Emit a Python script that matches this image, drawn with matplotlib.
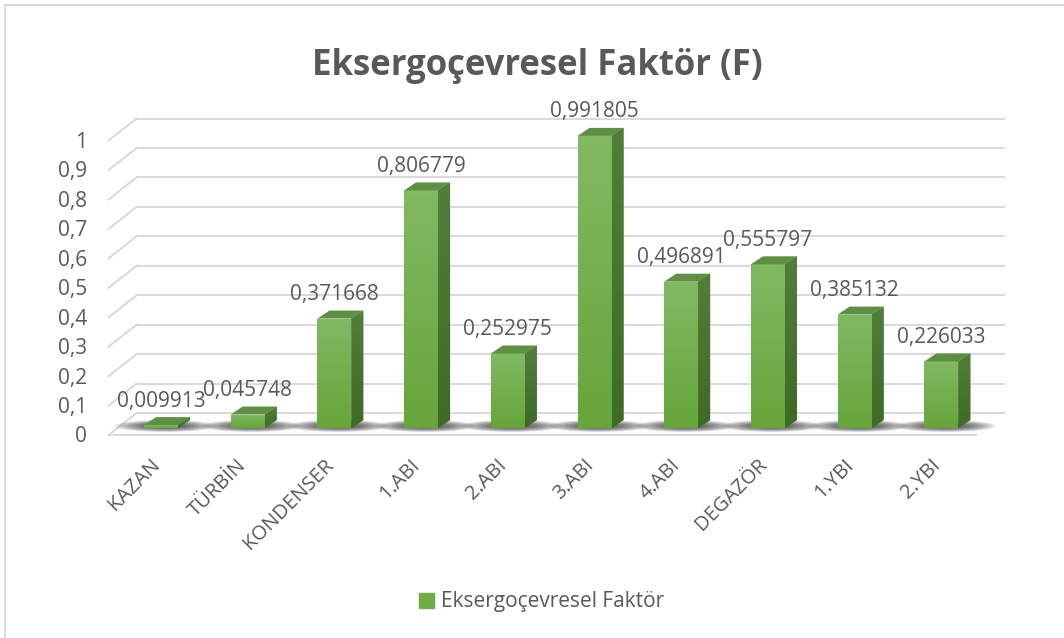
import matplotlib
matplotlib.use('Agg')
import matplotlib.pyplot as plt
import numpy as np
from matplotlib.patches import Polygon, Ellipse, Patch
from matplotlib.lines import Line2D
from matplotlib.colors import LinearSegmentedColormap

plt.rcParams['font.family'] = ['Open Sans', 'DejaVu Sans']

# Data
categories = ['KAZAN', 'TÜRBİN', 'KONDENSER', '1.ABI', '2.ABI', '3.ABI',
              '4.ABI', 'DEGAZÖR', '1.YBI', '2.YBI']
values = [0.009913, 0.045748, 0.371668, 0.806779, 0.252975, 0.991805,
          0.496891, 0.555797, 0.385132, 0.226033]
value_labels = ['0,009913', '0,045748', '0,371668', '0,806779', '0,252975',
                '0,991805', '0,496891', '0,555797', '0,385132', '0,226033']
y_ticks = [0, 0.1, 0.2, 0.3, 0.4, 0.5, 0.6, 0.7, 0.8, 0.9, 1]
y_tick_labels = ['0', '0,1', '0,2', '0,3', '0,4', '0,5', '0,6', '0,7', '0,8', '0,9', '1']
title = 'Eksergoçevresel Faktör (F)'
series_name = 'Eksergoçevresel Faktör'

TEXT = '#595959'
GRID = '#d9d9d9'
GREEN = '#70ad47'

W, H = 1064, 638
fig = plt.figure(figsize=(W / 100, H / 100), dpi=100)
ax = fig.add_axes([0, 0, 1, 1])

# pixel scale of one category / one value unit in the bar plane
PX_X = 86.7
PX_Y = 294.5
x0_px, y0_px = 161, 428


def px(dx, dy):
    """pixel offset (right, up) -> data offset"""
    return dx / PX_X, dy / PX_Y


fx, fy = px(-9, -7)     # floor front edge relative to bar plane
bx, by = px(19, 15)     # back wall relative to bar plane
dx, dy = px(12, 8)      # bar depth

n = len(categories)
left, right = -0.5, n - 0.5

# gridlines: back wall + left side wall
for t in y_ticks:
    ax.plot([left + bx, right + bx], [t + by, t + by], color=GRID, lw=1.4, zorder=1)
    ax.plot([left + fx, left + bx], [t + fy, t + by], color=GRID, lw=1.4, zorder=1)
# floor front edge
ax.plot([left + fx, right + fx], [fy, fy], color=GRID, lw=1.4, zorder=1)

# y tick labels
for t, lab in zip(y_ticks, y_tick_labels):
    ax.text((87 - x0_px) / PX_X, t + fy - 2 / PX_Y, lab, ha='right', va='center',
            fontsize=15, color=TEXT)

bar_w = 34 / PX_X
xs = np.arange(n)

# soft shadows on the floor
for x in xs:
    for k in range(9):
        ax.add_patch(Ellipse((x + 4 / PX_X, 2 / PX_Y), (100 - 8 * k) / PX_X,
                             (12 - 1.0 * k) / PX_Y, color='#1a1a1a', alpha=0.11,
                             lw=0, zorder=2))

front_grad = np.linspace(0, 1, 64).reshape(-1, 1)
front_cmap = LinearSegmentedColormap.from_list('f', ['#81b964', '#66a63a'])
side_cmap = LinearSegmentedColormap.from_list('s', ['#527f38', '#3d6a24'])

bars = ax.bar(xs, values, width=bar_w, color=GREEN, lw=0, zorder=3)
for x, v, b in zip(xs, values, bars):
    xl, xr = x - bar_w / 2, x + bar_w / 2
    im = ax.imshow(front_grad, extent=[xl, xr, 0, v], aspect='auto', cmap=front_cmap,
                   origin='upper', zorder=4, interpolation='bilinear')
    im.set_clip_path(b)
    side = Polygon([(xr, 0), (xr + dx, dy), (xr + dx, v + dy), (xr, v)], closed=True,
                   color='#476f30', lw=0, zorder=3)
    ax.add_patch(side)
    im2 = ax.imshow(front_grad, extent=[xr, xr + dx, 0, v + dy], aspect='auto',
                    cmap=side_cmap, origin='upper', zorder=4, interpolation='bilinear')
    im2.set_clip_path(side)
    top = Polygon([(xl, v), (xr, v), (xr + dx, v + dy), (xl + dx, v + dy)], closed=True,
                  color='#5f8f45', lw=0, zorder=5)
    ax.add_patch(top)

# value labels
for x, v, lab in zip(xs, values, value_labels):
    ax.text(x, v + 24 / PX_Y, lab, ha='center', va='center', fontsize=15, color=TEXT,
            zorder=6)

# category labels
for x, lab in zip(xs, categories):
    ax.text(x - 11 / PX_X, -27 / PX_Y, lab, ha='right', va='top', rotation=45,
            rotation_mode='anchor', fontsize=14.5, color=TEXT)

ax.set_xlim(-x0_px / PX_X, (W - x0_px) / PX_X)
ax.set_ylim((y0_px - H) / PX_Y, y0_px / PX_Y)
ax.axis('off')

fig.text(537 / W, 1 - 75 / H, title, ha='center', va='baseline', fontsize=25,
         fontweight='bold', color=TEXT)

fig.legend(handles=[Patch(color=GREEN, label=series_name)], loc='center',
           bbox_to_anchor=(542 / W, 1 - 602 / H), frameon=False, fontsize=15,
           handlelength=0.7, handleheight=0.7, handletextpad=0.35, labelcolor=TEXT)

# chart border (only top and left visible in the crop)
fig.add_artist(Line2D([5 / W, 1], [1 - 5 / H, 1 - 5 / H], color=GRID, lw=1.5))
fig.add_artist(Line2D([5 / W, 5 / W], [0, 1 - 5 / H], color=GRID, lw=1.5))

fig.savefig('out.png', dpi=100)
